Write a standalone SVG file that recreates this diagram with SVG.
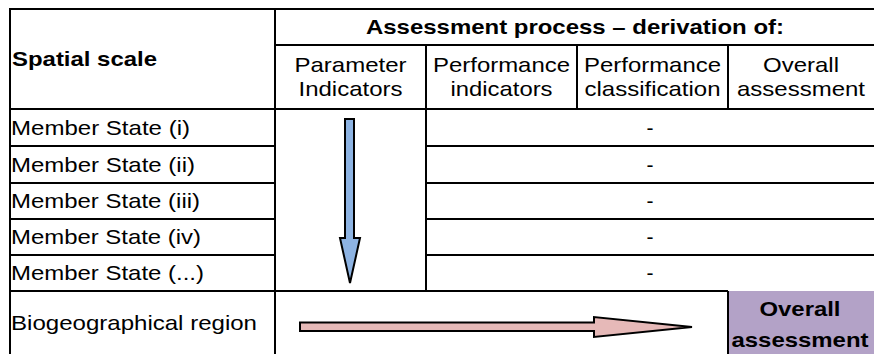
<svg xmlns="http://www.w3.org/2000/svg" width="874" height="354" viewBox="0 0 874 354">
  <style>
    text { font-family: "Liberation Sans", Arial, sans-serif; font-size: 21px; fill: #000; }
    .b { font-weight: bold; }
    .c { text-anchor: middle; }
    .grid line { stroke: #000; stroke-width: 2; }
    .arrow { stroke: #000; stroke-width: 2; stroke-linejoin: miter; }
  </style>
  <rect x="0" y="0" width="874" height="354" fill="#fff"/>

  <g id="overall-cell">
    <rect x="728" y="291" width="147" height="64" fill="#b3a2c7"/>
  </g>

  <g id="grid" class="grid">
    <line x1="9" y1="9" x2="874" y2="9"/>
    <line x1="10" y1="8" x2="10" y2="354"/>
    <line x1="275" y1="8" x2="275" y2="354"/>
    <line x1="275" y1="45" x2="874" y2="45"/>
    <line x1="10" y1="109" x2="874" y2="109"/>
    <line x1="426" y1="45" x2="426" y2="291"/>
    <line x1="577" y1="45" x2="577" y2="109"/>
    <line x1="728" y1="45" x2="728" y2="109"/>
    <line x1="10" y1="146" x2="275" y2="146"/>
    <line x1="426" y1="146" x2="874" y2="146"/>
    <line x1="10" y1="183" x2="275" y2="183"/>
    <line x1="426" y1="183" x2="874" y2="183"/>
    <line x1="10" y1="219" x2="275" y2="219"/>
    <line x1="426" y1="219" x2="874" y2="219"/>
    <line x1="10" y1="255" x2="275" y2="255"/>
    <line x1="426" y1="255" x2="874" y2="255"/>
    <line x1="10" y1="291" x2="728" y2="291"/>
    <line x1="728" y1="291" x2="728" y2="354"/>
  </g>

  <g id="header-spatial">
    <text class="b" x="12" y="66" textLength="145" lengthAdjust="spacingAndGlyphs">Spatial scale</text>
  </g>
  <g id="header-process">
    <text class="b c" x="575" y="34" textLength="418" lengthAdjust="spacingAndGlyphs">Assessment process – derivation of:</text>
  </g>
  <g id="header-parameter">
    <text class="c" x="350.5" y="72" textLength="112" lengthAdjust="spacingAndGlyphs">Parameter</text>
    <text class="c" x="350.5" y="96" textLength="104" lengthAdjust="spacingAndGlyphs">Indicators</text>
  </g>
  <g id="header-performance-ind">
    <text class="c" x="501.5" y="72" textLength="137" lengthAdjust="spacingAndGlyphs">Performance</text>
    <text class="c" x="501.5" y="96" textLength="102" lengthAdjust="spacingAndGlyphs">indicators</text>
  </g>
  <g id="header-performance-class">
    <text class="c" x="652.5" y="72" textLength="137" lengthAdjust="spacingAndGlyphs">Performance</text>
    <text class="c" x="652.5" y="96" textLength="136" lengthAdjust="spacingAndGlyphs">classification</text>
  </g>
  <g id="header-overall">
    <text class="c" x="801" y="72" textLength="76" lengthAdjust="spacingAndGlyphs">Overall</text>
    <text class="c" x="801" y="96" textLength="128" lengthAdjust="spacingAndGlyphs">assessment</text>
  </g>

  <g id="row-ms-i">
    <text x="11" y="134.5" textLength="179" lengthAdjust="spacingAndGlyphs">Member State (i)</text>
    <text class="c" x="650" y="134.5">-</text>
  </g>
  <g id="row-ms-ii">
    <text x="11" y="171.5" textLength="184" lengthAdjust="spacingAndGlyphs">Member State (ii)</text>
    <text class="c" x="650" y="171.5">-</text>
  </g>
  <g id="row-ms-iii">
    <text x="11" y="207.5" textLength="189" lengthAdjust="spacingAndGlyphs">Member State (iii)</text>
    <text class="c" x="650" y="207.5">-</text>
  </g>
  <g id="row-ms-iv">
    <text x="11" y="243.5" textLength="190" lengthAdjust="spacingAndGlyphs">Member State (iv)</text>
    <text class="c" x="650" y="243.5">-</text>
  </g>
  <g id="row-ms-etc">
    <text x="11" y="279.5" textLength="193" lengthAdjust="spacingAndGlyphs">Member State (...)</text>
    <text class="c" x="650" y="279.5">-</text>
  </g>
  <g id="row-biogeo">
    <text x="11" y="330" textLength="246" lengthAdjust="spacingAndGlyphs">Biogeographical region</text>
  </g>
  <g id="overall-assessment">
    <text class="b c" x="800" y="316" textLength="81" lengthAdjust="spacingAndGlyphs">Overall</text>
    <text class="b c" x="800" y="347" textLength="137" lengthAdjust="spacingAndGlyphs">assessment</text>
  </g>

  <g id="connectors">
    <polygon class="arrow" fill="#8db3e2" points="345,119 354,119 354,238 360,238 350,283 340,238 345,238"/>
    <polygon class="arrow" fill="#e6b9b8" points="300,322.5 594,322.5 594,317 692,327 594,337 594,331 300,331"/>
  </g>
</svg>
